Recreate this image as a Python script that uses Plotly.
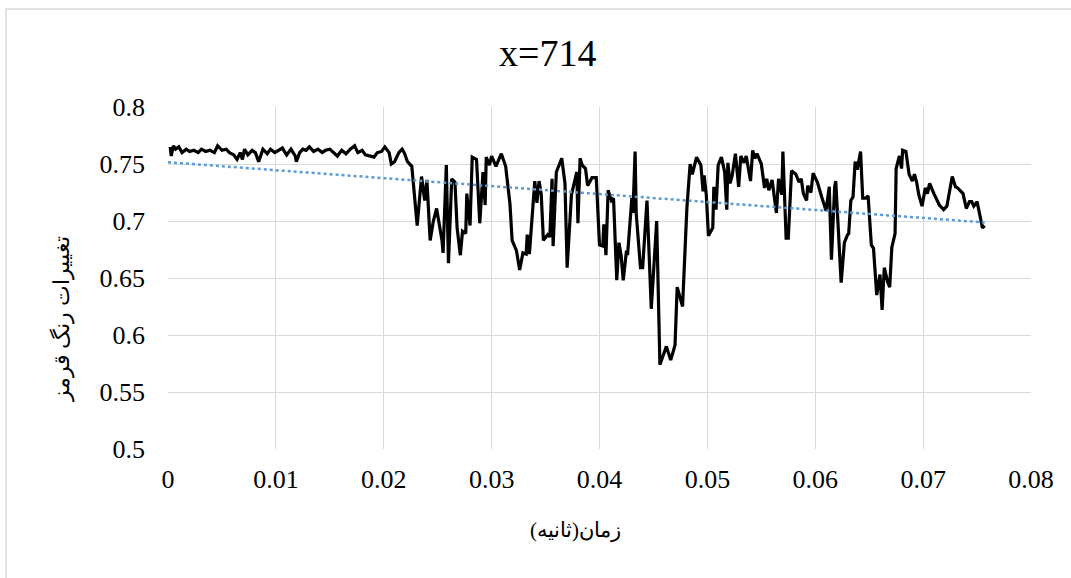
import numpy as np
import plotly.graph_objects as go

time_s = [
    0.0002, 0.0003, 0.0005, 0.0007, 0.0010, 0.0013, 0.0017, 0.0020, 0.0024, 0.0028,
    0.0031, 0.0035, 0.0039, 0.0043, 0.0046, 0.0050, 0.0054, 0.0057, 0.0061, 0.0064,
    0.0067, 0.0069, 0.0071, 0.0074, 0.0078, 0.0081, 0.0084, 0.0088, 0.0092, 0.0095,
    0.0099, 0.0103, 0.0106, 0.0110, 0.0114, 0.0118, 0.0119, 0.0122, 0.0125, 0.0128,
    0.0131, 0.0135, 0.0139, 0.0143, 0.0146, 0.0150,
    0.0153, 0.0157, 0.0161, 0.0165, 0.0169, 0.0173, 0.0176, 0.0180, 0.0183, 0.0187,
    0.0191, 0.0194, 0.0198, 0.0201, 0.0205, 0.0207, 0.0210, 0.0214, 0.0217, 0.0219,
    0.0222, 0.0226, 0.0231, 0.0235, 0.0238, 0.0240, 0.0243, 0.0246, 0.0249, 0.0254,
    0.0255, 0.0258, 0.0260, 0.0263, 0.0266, 0.0268, 0.0271, 0.0273, 0.0276, 0.0277,
    0.0280, 0.0282, 0.0286, 0.0289, 0.0292, 0.0294, 0.0295, 0.0298, 0.0300, 0.0304,
    0.0309, 0.0313, 0.0317,
    0.0319, 0.0323, 0.0326, 0.0329, 0.0332, 0.0333, 0.0335, 0.0338, 0.0340, 0.0342,
    0.0344, 0.0346, 0.0348, 0.0352, 0.0354, 0.0356, 0.0357, 0.0360, 0.0365, 0.0368,
    0.0370, 0.0374, 0.0379, 0.0380, 0.0382, 0.0384, 0.0387, 0.0389, 0.0393, 0.0397,
    0.0400, 0.0403, 0.0404, 0.0406, 0.0408, 0.0411, 0.0413, 0.0416, 0.0418, 0.0420,
    0.0422, 0.0425, 0.0426, 0.0430, 0.0431, 0.0433, 0.0434, 0.0438, 0.0440, 0.0444,
    0.0448, 0.0453, 0.0456, 0.0459, 0.0462, 0.0466, 0.0470, 0.0472, 0.0477, 0.0480,
    0.0481, 0.0484, 0.0486, 0.0490, 0.0494, 0.0496, 0.0497, 0.0499, 0.0501, 0.0505,
    0.0506, 0.0508, 0.0510, 0.0513, 0.0516, 0.0518, 0.0519, 0.0521, 0.0523, 0.0526,
    0.0529, 0.0531, 0.0534, 0.0536, 0.0540, 0.0542, 0.0544, 0.0546, 0.0550, 0.0553,
    0.0555, 0.0557, 0.0560, 0.0564, 0.0566, 0.0569, 0.0570, 0.0573, 0.0575, 0.0578,
    0.0582, 0.0585, 0.0587, 0.0589, 0.0592, 0.0593, 0.0596, 0.0598, 0.0602, 0.0606,
    0.0610, 0.0613, 0.0615, 0.0618, 0.0619, 0.0624, 0.0627, 0.0630, 0.0631, 0.0633,
    0.0635, 0.0637, 0.0639, 0.0642, 0.0644, 0.0647, 0.0649, 0.0652, 0.0654, 0.0657,
    0.0660, 0.0662, 0.0664, 0.0667, 0.0669, 0.0671, 0.0674, 0.0675, 0.0678, 0.0680,
    0.0681, 0.0684, 0.0687, 0.0690, 0.0692, 0.0694, 0.0696, 0.0699, 0.0702, 0.0704,
    0.0706, 0.0710, 0.0715, 0.0719, 0.0722, 0.0727, 0.0730, 0.0732, 0.0735, 0.0737,
    0.0740, 0.0743, 0.0745, 0.0747, 0.0750, 0.0752, 0.0755, 0.0757,
]

red_change = [
    0.765, 0.757, 0.766, 0.763, 0.765, 0.760, 0.763, 0.761, 0.762, 0.760,
    0.763, 0.761, 0.762, 0.760, 0.766, 0.762, 0.763, 0.760, 0.758, 0.754,
    0.760, 0.754, 0.763, 0.758, 0.762, 0.760, 0.752, 0.763, 0.759, 0.763,
    0.760, 0.762, 0.764, 0.758, 0.763, 0.757, 0.752, 0.760, 0.763, 0.762,
    0.765, 0.761, 0.763, 0.760, 0.762, 0.763,
    0.760, 0.757, 0.762, 0.759, 0.763, 0.766, 0.760, 0.762, 0.758, 0.757,
    0.756, 0.760, 0.761, 0.765, 0.760, 0.750, 0.752, 0.760, 0.763, 0.760,
    0.752, 0.748, 0.696, 0.739, 0.718, 0.736, 0.683, 0.700, 0.711, 0.683,
    0.672, 0.749, 0.663, 0.737, 0.734, 0.694, 0.670, 0.691, 0.689, 0.724,
    0.696, 0.756, 0.754, 0.698, 0.743, 0.714, 0.756, 0.749, 0.757, 0.748,
    0.759, 0.748, 0.715,
    0.683, 0.674, 0.657, 0.672, 0.671, 0.688, 0.671, 0.714, 0.735, 0.716,
    0.735, 0.723, 0.683, 0.688, 0.686, 0.737, 0.678, 0.743, 0.755, 0.733,
    0.659, 0.723, 0.743, 0.698, 0.755, 0.749, 0.746, 0.731, 0.738, 0.738,
    0.679, 0.678, 0.697, 0.670, 0.727, 0.718, 0.720, 0.648, 0.681, 0.670,
    0.648, 0.674, 0.670, 0.720, 0.707, 0.761, 0.707, 0.659, 0.659, 0.718,
    0.623, 0.700, 0.574, 0.582, 0.590, 0.578, 0.591, 0.642, 0.625, 0.690,
    0.711, 0.750, 0.741, 0.756, 0.749, 0.726, 0.740, 0.723, 0.687, 0.694,
    0.730, 0.710, 0.749, 0.756, 0.743, 0.710, 0.751, 0.733, 0.740, 0.759,
    0.730, 0.757, 0.751, 0.757, 0.735, 0.762, 0.755, 0.759, 0.750, 0.729,
    0.737, 0.727, 0.736, 0.707, 0.737, 0.723, 0.761, 0.685, 0.685, 0.744,
    0.741, 0.734, 0.737, 0.724, 0.718, 0.731, 0.725, 0.742, 0.734, 0.721,
    0.709, 0.730, 0.666, 0.730, 0.735, 0.646, 0.681, 0.688, 0.689, 0.718,
    0.721, 0.752, 0.745, 0.761, 0.720, 0.720, 0.722, 0.679, 0.676, 0.635,
    0.653, 0.622, 0.659, 0.647, 0.642, 0.677, 0.689, 0.746, 0.757, 0.746,
    0.762, 0.761, 0.741, 0.735, 0.741, 0.734, 0.723, 0.713, 0.729, 0.724,
    0.733, 0.724, 0.714, 0.710, 0.713, 0.739, 0.730, 0.729, 0.726, 0.724,
    0.711, 0.717, 0.717, 0.713, 0.717, 0.708, 0.694, 0.696,
]

x_ticks = [0, 0.01, 0.02, 0.03, 0.04, 0.05, 0.06, 0.07, 0.08]
y_ticks = [0.5, 0.55, 0.6, 0.65, 0.7, 0.75, 0.8]
title_text = "x=714"
x_title = "زمان(ثانیه)"
y_title = "تغییرات رنگ قرمز"

# linear trendline (least squares) from the data, like Excel's trendline
xs = np.array(time_s)
ys = np.array(red_change)
slope, intercept = np.polyfit(xs, ys, 1)
trend_x = [0.0, float(xs.max())]
trend_y = [intercept + slope * t for t in trend_x]

FONT = "Liberation Serif, Times New Roman, serif"

fig = go.Figure()
fig.add_trace(go.Scatter(
    x=time_s, y=red_change, mode="lines",
    line=dict(color="#000000", width=3.2),
    showlegend=False, hoverinfo="skip",
))
fig.add_trace(go.Scatter(
    x=trend_x, y=trend_y, mode="lines",
    line=dict(color="#5B9BD5", width=2.5, dash="dot"),
    showlegend=False, hoverinfo="skip",
))

W, H = 1071, 578
L, R, T, B = 168, 40, 107, 129
pw, ph = W - L - R, H - T - B

def px_x(p):
    return (p - L) / pw

def px_y(p):
    return (H - B - p) / ph

fig.update_layout(
    width=W, height=H,
    margin=dict(l=L, r=R, t=T, b=B),
    paper_bgcolor="white", plot_bgcolor="white",
    font=dict(family=FONT, color="#000000", size=26),
    xaxis=dict(
        range=[0, 0.08], tickvals=x_ticks, ticktext=[f"{v:g}" for v in x_ticks],
        showgrid=True, gridcolor="#D9D9D9", gridwidth=1.3,
        zeroline=False, showline=False, ticks="", ticklen=0,
        ticklabelstandoff=12,
        tickfont=dict(family=FONT, size=26, color="#000000"),
    ),
    yaxis=dict(
        range=[0.5, 0.8], tickvals=y_ticks, ticktext=[f"{v:g}" for v in y_ticks],
        showgrid=True, gridcolor="#D9D9D9", gridwidth=1.3,
        zeroline=False, showline=False, ticks="", ticklen=0,
        ticklabelstandoff=22,
        tickfont=dict(family=FONT, size=26, color="#000000"),
    ),
    shapes=[dict(
        type="rect", xref="paper", yref="paper",
        x0=px_x(6), x1=px_x(1085), y0=px_y(600), y1=px_y(9),
        line=dict(color="#D9D9D9", width=1.5), fillcolor="rgba(0,0,0,0)",
        layer="below",
    )],
    annotations=[
        dict(text=title_text, xref="paper", yref="paper",
             x=px_x(547), y=px_y(53), showarrow=False,
             xanchor="center", yanchor="middle",
             font=dict(family=FONT, size=38, color="#000000")),
        dict(text=x_title, xref="paper", yref="paper",
             x=px_x(575), y=px_y(530), showarrow=False,
             xanchor="center", yanchor="middle",
             font=dict(family=FONT, size=21, color="#000000")),
        dict(text=y_title, xref="paper", yref="paper",
             x=px_x(62), y=px_y(319), showarrow=False, textangle=-90,
             xanchor="center", yanchor="middle",
             font=dict(family=FONT, size=22, color="#000000")),
    ],
)

fig.write_html(
    "out.html",
    config={"displayModeBar": False},
    post_script="document.body.style.margin='0';document.body.style.overflow='hidden';",
)
